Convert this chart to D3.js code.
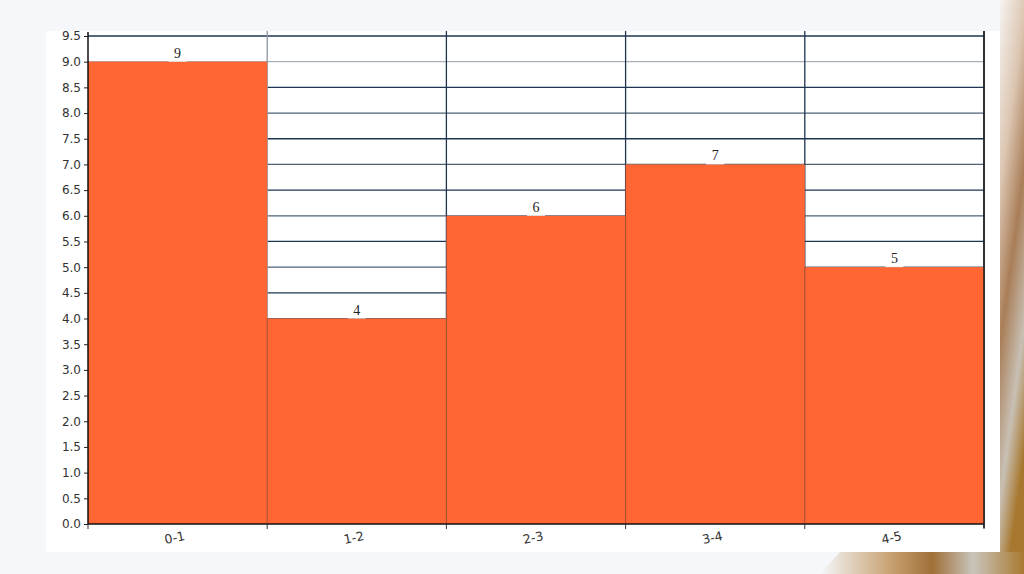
<!DOCTYPE html>
<html><head><meta charset="utf-8">
<script src="https://cdn.jsdelivr.net/npm/d3@7"></script>
<style>html,body{margin:0;padding:0;background:#f5f7fa;}svg{display:block;}</style>
</head><body>
<svg id="c" width="1024" height="574"></svg>
<script>
const categories = ["0-1","1-2","2-3","3-4","4-5"];
const values = [9,4,6,7,5];
const yTicks = [0,0.5,1,1.5,2,2.5,3,3.5,4,4.5,5,5.5,6,6.5,7,7.5,8,8.5,9,9.5];

const svg = d3.select("#c");
const defs = svg.append("defs");
const g1 = defs.append("linearGradient").attr("id","edge").attr("x1","0").attr("y1","0").attr("x2","0.3").attr("y2","1");
g1.append("stop").attr("offset","0").attr("stop-color","#f6f3f0");
g1.append("stop").attr("offset","0.3").attr("stop-color","#dcc6b2");
g1.append("stop").attr("offset","0.55").attr("stop-color","#a97e58");
g1.append("stop").attr("offset","0.8").attr("stop-color","#c8c0b4");
g1.append("stop").attr("offset","1").attr("stop-color","#a87830");
const g2 = defs.append("linearGradient").attr("id","bot").attr("x1","0").attr("y1","0").attr("x2","1").attr("y2","0");
g2.append("stop").attr("offset","0").attr("stop-color","#f5f7fa");
g2.append("stop").attr("offset","0.35").attr("stop-color","#c8a070");
g2.append("stop").attr("offset","0.55").attr("stop-color","#a07038");
g2.append("stop").attr("offset","0.75").attr("stop-color","#c9c4bc");
g2.append("stop").attr("offset","1").attr("stop-color","#a87a30");

svg.append("rect").attr("x",0).attr("y",0).attr("width",1024).attr("height",574).attr("fill","#f5f7fa");
svg.append("rect").attr("x",1000).attr("y",0).attr("width",24).attr("height",574).attr("fill","url(#edge)");
svg.append("path").attr("d","M820,574 L1024,574 L1024,552 L840,552 Z").attr("fill","url(#bot)");
svg.append("rect").attr("x",46).attr("y",31).attr("width",954).attr("height",521).attr("fill","#ffffff");

const x = d3.scaleBand().domain(categories).range([88,984]).padding(0);
const y = d3.scaleLinear().domain([0,9.5]).range([524,36]);

// horizontal gridlines
svg.append("g").selectAll("line").data(yTicks.filter(d=>d>0)).join("line")
  .attr("x1",88).attr("x2",984).attr("y1",d=>y(d)).attr("y2",d=>y(d))
  .attr("stroke",d=> d===9 ? "#a7afb7" : (Number.isInteger(d) ? "#4e6276" : "#1f3450"))
  .attr("stroke-width",1.3);
// vertical gridlines
const bounds = categories.map(c=>x(c)).concat([x(categories[categories.length-1])+x.bandwidth()]);
svg.append("g").selectAll("line").data(bounds.slice(1)).join("line")
  .attr("x1",d=>d).attr("x2",d=>d).attr("y1",y(9.5)-5).attr("y2",524)
  .attr("stroke",(d,i)=> i===0 ? "#8d96a0" : "#1f3450").attr("stroke-width",1.3);

// bars
svg.append("g").selectAll("rect").data(values).join("rect")
  .attr("x",(d,i)=>x(categories[i])).attr("width",x.bandwidth())
  .attr("y",d=>y(d)).attr("height",d=>524-y(d))
  .attr("fill","#ff6633");
svg.append("g").selectAll("line").data(bounds.slice(1,-1)).join("line")
  .attr("x1",d=>d).attr("x2",d=>d)
  .attr("y1",(d,i)=>y(Math.min(values[i],values[i+1]))).attr("y2",524)
  .attr("stroke","#a8522e").attr("stroke-width",1);

// value labels
const lab = svg.append("g");
values.forEach((v,i)=>{
  const cx = x(categories[i]) + x.bandwidth()/2;
  lab.append("rect").attr("x",cx-9).attr("y",y(v)-14).attr("width",18).attr("height",14).attr("fill","#ffffff").attr("opacity",0.9);
  lab.append("text").attr("x",cx).attr("y",y(v)-4).attr("text-anchor","middle")
    .attr("font-family","Liberation Serif, serif").attr("font-size",14).attr("fill","#222").text(v);
});

// axes
const yAxis = d3.axisLeft(y).tickValues(yTicks).tickFormat(d3.format(".1f")).tickSize(4).tickPadding(3);
const ya = svg.append("g").attr("transform","translate(88,0)").call(yAxis);
ya.select(".domain").attr("stroke","#111").attr("stroke-width",1.5).attr("d","M0,"+(y(9.5)-4)+"V524");
ya.selectAll(".tick line").attr("stroke","#222");
ya.selectAll("text").attr("font-family","DejaVu Sans, sans-serif").attr("font-size",12).attr("fill","#333");

const xa = svg.append("g").attr("transform","translate(0,524)");
xa.append("line").attr("x1",88).attr("x2",984).attr("y1",0).attr("y2",0).attr("stroke","#111").attr("stroke-width",1.5);
xa.selectAll("line.t").data(bounds).join("line").attr("class","t")
  .attr("x1",d=>d).attr("x2",d=>d).attr("y1",0).attr("y2",5).attr("stroke","#333");
xa.selectAll("text").data(categories).join("text")
  .attr("transform",d=>"translate("+(x(d)+x.bandwidth()/2-2)+",18) rotate(-12)")
  .attr("text-anchor","middle")
  .attr("font-family","DejaVu Sans, sans-serif").attr("font-size",12.5).attr("fill","#333").text(d=>d);

// right border
svg.append("line").attr("x1",984).attr("x2",984).attr("y1",y(9.5)-5).attr("y2",528).attr("stroke","#1a1a1a").attr("stroke-width",1.5);
</script>
</body></html>
